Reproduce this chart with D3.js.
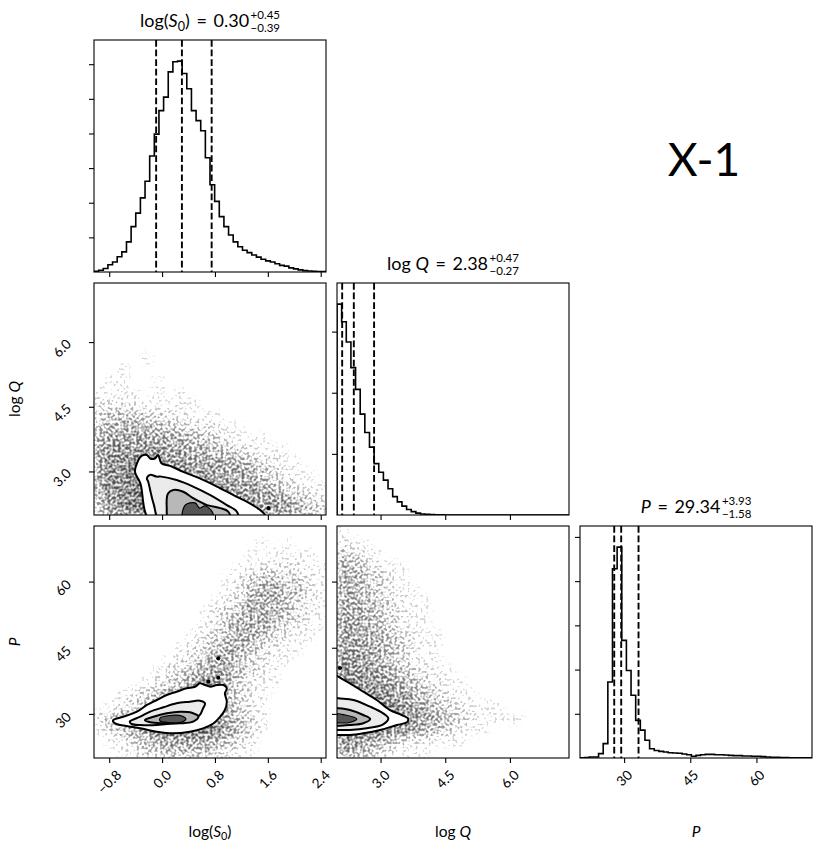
<!DOCTYPE html>
<html>
<head>
<meta charset="utf-8">
<script src="https://cdn.jsdelivr.net/npm/d3@7"></script>
<style>
  body { margin: 0; background: #fff; }
  svg { display: block; }
  text { font-family: Lato, "DejaVu Sans", sans-serif; fill: #000; }
</style>
</head>
<body>
<div id="container"></div>
<script>
/* CONSTANTS AND GLOBALS */
const width = 831, height = 855;
const marginLeft = 94, marginTop = 40, size = 232, gap = 11;

/* DATA */
// parameter ranges, ticks and 16/50/84 % values
const domains = [[-1.03, 2.48], [1.99, 7.37], [20, 72.6]];
const tickValues = [[-0.8, 0.0, 0.8, 1.6, 2.4], [3.0, 4.5, 6.0], [30, 45, 60]];
const tickLabels = [["−0.8", "0.0", "0.8", "1.6", "2.4"], ["3.0", "4.5", "6.0"], ["30", "45", "60"]];
const medians = [0.30, 2.38, 29.34];
const errPlus = [0.45, 0.47, 3.93];
const errMinus = [0.39, 0.27, 1.58];

// 1D histograms, 50 bins each
const histLogS0 = [20, 50, 100, 210, 290, 440, 580, 870, 1310, 1700, 2140, 2620, 3350, 3980, 4660, 5050, 5780, 6070, 6090, 5730,
  5290, 4660, 4370, 4080, 3300, 2520, 2040, 1600, 1310, 1070, 870, 730, 630, 560, 490, 430, 370, 320, 290, 240,
  190, 170, 120, 90, 60, 40, 30, 20, 10, 10];
const histLogQ = [3450, 3160, 2830, 2410, 2055, 1650, 1350, 1110, 840, 700, 570, 430, 300, 215, 145, 90, 55, 30, 16, 10,
  6, 4, 2, 1, 1, 0, 0, 0, 0, 0, 0, 0, 0, 0, 0, 0, 0, 0, 0, 0, 0, 0, 0, 0, 0, 0, 0, 0, 0, 0];
const histP = [4, 8, 23, 23, 98, 324, 1720, 4280, 4770, 2660, 1980, 1420, 850, 630, 400, 210, 170, 150, 135, 120,
  113, 106, 90, 75, 38, 60, 75, 83, 83, 75, 75, 68, 60, 53, 53, 45, 45, 38, 38, 30,
  23, 15, 15, 8, 8, 4, 4, 4, 4, 4];

// sample density: 20x20 cells, top row first, 0-9
const cloudSQ = [
  "00000000000000000000", "00000000000000000000", "00000000000000000000", "00000000000000000000",
  "00000000000000000000", "00000000000000000000", "00001000000000000000", "00100000000000000000",
  "01100100000000000000", "11110101000000000000", "22221111100000000000", "34443322111000000000",
  "45555443322110000000", "56666655443211100000", "67777766554432111000", "68888777666554321100",
  "68899888776665432110", "68899999887766543211", "57899999998877665432", "47899999999988776543"];
const cloudSP = [
  "00000000000000000000", "00000000000000101000", "00000000000001011110", "00000000000011222211",
  "00000000000123443321", "00000000000124554421", "00000000001235554321", "00000000012345554321",
  "00000000012455543211", "00000000123455432110", "00000001234554321100", "00000012345543211000",
  "00000123456543210000", "00001234677532110000", "00123456788432100000", "01234578888532100000",
  "24567889998543100000", "13467889998643100000", "01234566665432000000", "00123344443211000000"];
const cloudQP = [
  "10000000000000000000", "21100000000000000000", "43210000000000000000", "54321100000000000000",
  "55432100000000000000", "55432110000000000000", "55443211000000000000", "65543211000000000000",
  "66543211000000000000", "66554321100000000000", "76654321100000000000", "77654321100000000000",
  "87765432110000000000", "88776543211000000000", "99887654321100000000", "99998765432111000000",
  "99999876543211110000", "99998765432110000000", "77654322111000000000", "55432111000000000000"];

// density contours (outer to inner), in data units
const contoursSQ = [
  [[-0.15, 1.80], [-0.33, 2.73], [-0.41, 2.99], [-0.38, 3.19], [-0.31, 3.36], [-0.23, 3.38], [-0.18, 3.30], [-0.11, 3.30],
   [-0.06, 3.38], [-0.01, 3.19], [0.12, 3.13], [0.32, 2.99], [0.57, 2.84], [0.83, 2.65], [1.08, 2.45], [1.28, 2.30],
   [1.48, 2.11], [1.56, 1.99], [1.59, 1.80]],
  [[-0.01, 1.80], [-0.13, 2.26], [-0.21, 2.76], [-0.23, 2.84], [-0.18, 2.92], [-0.08, 2.88], [-0.01, 2.88], [0.22, 2.80],
   [0.47, 2.65], [0.73, 2.45], [0.98, 2.22], [1.13, 2.07], [1.15, 1.80]],
  [[0.12, 1.80], [0.07, 2.18], [0.09, 2.49], [0.17, 2.57], [0.32, 2.53], [0.47, 2.38], [0.68, 2.22], [0.88, 2.15],
   [1.00, 2.07], [1.04, 1.80]],
  [[0.32, 1.80], [0.35, 2.22], [0.50, 2.27], [0.57, 2.15], [0.65, 2.20], [0.76, 2.06], [0.77, 1.80]]
];
const contoursSP = [
  [[-0.74, 28.61], [-0.59, 29.36], [-0.38, 30.50], [-0.23, 32.02], [-0.08, 33.15], [0.07, 34.28], [0.22, 35.03], [0.37, 35.80],
   [0.50, 36.16], [0.57, 36.94], [0.65, 36.55], [0.73, 36.16], [0.83, 36.55], [0.93, 36.55], [0.98, 35.80], [0.95, 34.67],
   [0.98, 32.76], [0.95, 30.88], [0.88, 29.36], [0.78, 27.87], [0.62, 26.73], [0.42, 25.96], [0.17, 25.60], [-0.08, 25.96],
   [-0.33, 26.73], [-0.54, 27.25], [-0.69, 27.71], [-0.74, 28.23]],
  [[-0.49, 28.23], [-0.33, 29.36], [-0.18, 30.50], [0.02, 31.49], [0.22, 32.40], [0.42, 32.76], [0.57, 32.99], [0.65, 32.40],
   [0.62, 31.27], [0.57, 29.75], [0.42, 28.61], [0.17, 27.87], [-0.08, 27.48], [-0.33, 27.48], [-0.46, 27.71]],
  [[-0.26, 28.61], [-0.13, 29.36], [0.07, 30.13], [0.27, 30.50], [0.45, 30.27], [0.55, 29.36], [0.47, 28.23], [0.27, 27.87],
   [0.02, 27.87], [-0.18, 28.09]],
  [[-0.03, 29.07], [0.12, 29.63], [0.30, 29.52], [0.36, 28.84], [0.30, 28.16], [0.09, 28.05], [-0.03, 28.39]]
];
const contoursQP = [
  [[1.83, 39.50], [2.02, 38.43], [2.29, 36.94], [2.60, 35.03], [2.91, 33.15], [3.22, 30.88], [3.49, 29.75], [3.64, 28.84],
   [3.61, 28.09], [3.38, 27.48], [2.99, 26.35], [2.60, 25.60], [2.29, 25.21], [2.02, 25.21], [1.83, 24.99]],
  [[1.83, 33.83], [2.02, 33.54], [2.37, 33.15], [2.76, 31.63], [3.06, 30.13], [3.18, 29.00], [3.06, 27.64], [2.68, 26.73],
   [2.29, 26.35], [2.02, 26.35], [1.83, 26.35]],
  [[1.83, 31.34], [2.02, 31.27], [2.29, 30.88], [2.60, 29.75], [2.76, 28.84], [2.60, 27.87], [2.29, 27.48], [2.02, 27.32],
   [1.83, 27.25]],
  [[1.83, 29.98], [2.18, 29.75], [2.45, 28.84], [2.29, 28.05], [2.01, 27.94], [1.83, 27.94]]
];

// isolated dense clumps drawn as black dots
const dotsSQ = [[1.61, 2.15]];
const dotsSP = [[0.70, 37.3], [0.85, 42.6], [0.85, 38.2]];
const dotsQP = [[2.06, 40.4]];

// axis label pieces
const labelParts = [
  [{ t: "log(" }, { t: "S", it: true }, { t: "0", sub: true }, { t: ")" }],
  [{ t: "log " }, { t: "Q", it: true }],
  [{ t: "P", it: true }]
];
const figureTag = "X-1";

/* SCALES */
const colX = i => marginLeft + i * (size + gap);
const rowY = j => marginTop + j * (size + gap);
const xScales = domains.map((d, i) => d3.scaleLinear().domain(d).range([colX(i), colX(i) + size]));
const yScales = domains.map((d, j) => d3.scaleLinear().domain(d).range([rowY(j) + size, rowY(j)]));
// density level -> opacity of the sample cloud (before the grain)
const cloudAlpha = d3.scaleLinear().domain([0, 1, 5, 9]).range([0, 0.09, 0.42, 0.62]);

/* HTML ELEMENTS */
const svg = d3.select("#container").append("svg")
  .attr("width", width).attr("height", height);
const defs = svg.append("defs");

// soft cloud broken up by a grainy texture, so it reads like many faint dots
const soft = defs.append("filter").attr("id", "soft")
  .attr("x", "-10%").attr("y", "-10%").attr("width", "120%").attr("height", "120%");
soft.append("feGaussianBlur").attr("in", "SourceGraphic").attr("stdDeviation", 3.2).attr("result", "b");
soft.append("feTurbulence").attr("type", "fractalNoise").attr("baseFrequency", 0.38)
  .attr("numOctaves", 1).attr("seed", 11).attr("result", "n");
soft.append("feColorMatrix").attr("in", "n").attr("type", "matrix")
  .attr("values", "0 0 0 0 0  0 0 0 0 0  0 0 0 0 0  3.0 0 0 0 -1.0").attr("result", "grain");
soft.append("feComposite").attr("in", "b").attr("in2", "grain").attr("operator", "arithmetic")
  .attr("k1", 0).attr("k2", 1.05).attr("k3", 0.6).attr("k4", -0.53).attr("result", "dots");
soft.append("feComponentTransfer").attr("in", "b").attr("result", "mask")
  .append("feFuncA").attr("type", "linear").attr("slope", 20).attr("intercept", 0);
soft.append("feComposite").attr("in", "dots").attr("in2", "mask").attr("operator", "in").attr("result", "masked");
soft.append("feGaussianBlur").attr("in", "masked").attr("stdDeviation", 0.45);

function clipFor(i, j) {
  const id = `clip-${i}-${j}`;
  defs.append("clipPath").attr("id", id).append("rect")
    .attr("x", colX(i)).attr("y", rowY(j)).attr("width", size).attr("height", size);
  return `url(#${id})`;
}

// text with italic letters and subscripts
function mathText(sel, parts, fs) {
  let shift = 0;
  parts.forEach(p => {
    const ts = sel.append("tspan").text(p.t);
    if (p.it) ts.attr("font-style", "italic");
    if (p.ws) ts.attr("word-spacing", p.ws);
    const want = p.sub ? fs * 0.22 : 0;
    if (want !== shift) { ts.attr("dy", want - shift); shift = want; }
    if (p.sub) ts.attr("font-size", fs * 0.7);
  });
  return sel;
}

function tickAxis(g, axis, transform) {
  const a = g.append("g").attr("transform", transform).call(axis);
  a.select(".domain").remove();
  a.selectAll("line").attr("stroke", "#000").attr("stroke-width", 1.1);
  a.selectAll("text").remove();
}

const labelFs = 13.5;
function xTickLabels(i, j) {
  const x = xScales[i], base = rowY(j) + size;
  tickValues[i].forEach((v, k) => {
    const t = svg.append("text").attr("font-size", labelFs)
      .attr("text-anchor", "middle").attr("dominant-baseline", "central").text(tickLabels[i][k]);
    const ext = (t.node().getComputedTextLength() + labelFs * 0.72) / Math.SQRT2;
    t.attr("transform", `translate(${x(v)},${base + 11 + ext / 2}) rotate(-45)`);
  });
}
function yTickLabels(i, j) {
  const y = yScales[j], edge = colX(i) - 22;
  tickValues[j].forEach((v, k) => {
    const t = svg.append("text").attr("font-size", labelFs)
      .attr("text-anchor", "middle").attr("dominant-baseline", "central").text(tickLabels[j][k]);
    const ext = (t.node().getComputedTextLength() + labelFs * 0.72) / Math.SQRT2;
    t.attr("transform", `translate(${edge - ext / 2},${y(v) + 6}) rotate(-45)`);
  });
}

function box(i, j) {
  svg.append("rect").attr("x", colX(i)).attr("y", rowY(j))
    .attr("width", size).attr("height", size)
    .attr("fill", "none").attr("stroke", "#000").attr("stroke-width", 1.1);
}

/* HISTOGRAMS */
const hists = [histLogS0, histLogQ, histP];
hists.forEach((counts, i) => {
  const x = xScales[i], dom = domains[i];
  const n = counts.length, bw = (dom[1] - dom[0]) / n;
  const yH = d3.scaleLinear().domain([0, 1.1 * d3.max(counts)]).range([rowY(i) + size, rowY(i)]);
  const pts = [[dom[0], 0]];
  counts.forEach((c, k) => pts.push([dom[0] + k * bw, c]));
  pts.push([dom[1], counts[n - 1]], [dom[1], 0]);

  const g = svg.append("g").attr("clip-path", clipFor(i, i));
  g.append("path").datum(pts)
    .attr("d", d3.line().x(d => x(d[0])).y(d => yH(d[1])).curve(d3.curveStepAfter))
    .attr("fill", "none").attr("stroke", "#000").attr("stroke-width", 1.6);

  const q = [medians[i] - errMinus[i], medians[i], medians[i] + errPlus[i]];
  g.selectAll(".q").data(q).join("line")
    .attr("x1", d => x(d)).attr("x2", d => x(d))
    .attr("y1", rowY(i)).attr("y2", rowY(i) + size)
    .attr("stroke", "#000").attr("stroke-width", 1.9).attr("stroke-dasharray", "6.7 2.9");

  tickAxis(svg, d3.axisLeft(yH).tickValues(d3.range(1000, 1.1 * d3.max(counts), 1000)).tickSize(5).tickFormat(""),
    `translate(${colX(i)},0)`);
  tickAxis(svg, d3.axisBottom(x).tickValues(tickValues[i]).tickSize(5).tickFormat(""),
    `translate(0,${rowY(i) + size})`);
  box(i, i);

  // title with stacked errors
  const tg = svg.append("g");
  const fs = 18;
  const mainParts = labelParts[i].concat([{ t: " = ", ws: 2 }, { t: medians[i].toFixed(2) }]);
  const main = mathText(tg.append("text").attr("font-size", fs), mainParts, fs);
  const w = main.node().getComputedTextLength();
  const sup = tg.append("text").attr("font-size", 11.5).attr("x", w + 1.5).attr("y", -8).text("+" + errPlus[i].toFixed(2));
  const sub = tg.append("text").attr("font-size", 11.5).attr("x", w + 1.5).attr("y", 4.5).text("−" + errMinus[i].toFixed(2));
  const total = w + 1.5 + Math.max(sup.node().getComputedTextLength(), sub.node().getComputedTextLength());
  tg.attr("transform", `translate(${colX(i) + size / 2 - total / 2},${rowY(i) - 13})`);
});

/* 2D PANELS */
const pairs = [
  { i: 0, j: 1, cloud: cloudSQ, contours: contoursSQ, dots: dotsSQ },
  { i: 0, j: 2, cloud: cloudSP, contours: contoursSP, dots: dotsSP },
  { i: 1, j: 2, cloud: cloudQP, contours: contoursQP, dots: dotsQP }
];
const fills = ["#ffffff", "#ebebeb", "#b8b8b8", "#555555"];

pairs.forEach(p => {
  const x = xScales[p.i], y = yScales[p.j];
  const dx = domains[p.i], dy = domains[p.j];
  const nx = p.cloud[0].length, ny = p.cloud.length;
  const cw = (dx[1] - dx[0]) / nx, ch = (dy[1] - dy[0]) / ny;
  const cells = [];
  p.cloud.forEach((row, r) => row.split("").forEach((v, c) => {
    if (+v > 0) cells.push({ x0: dx[0] + c * cw, y1: dy[1] - r * ch, v: +v });
  }));

  const g = svg.append("g").attr("clip-path", clipFor(p.i, p.j));
  g.append("g").attr("filter", "url(#soft)")
    .selectAll("rect").data(cells).join("rect")
    .attr("x", d => x(d.x0)).attr("y", d => y(d.y1))
    .attr("width", x(dx[0] + cw) - x(dx[0]) + 0.5)
    .attr("height", y(dy[1] - ch) - y(dy[1]) + 0.5)
    .attr("fill", "#000").attr("fill-opacity", d => cloudAlpha(d.v));

  const line = d3.line().x(d => x(d[0])).y(d => y(d[1])).curve(d3.curveCatmullRomClosed.alpha(0.5));
  g.selectAll(".lvl").data(p.contours).join("path")
    .attr("d", line)
    .attr("fill", (d, k) => fills[k])
    .attr("stroke", "#000")
    .attr("stroke-width", (d, k) => k < 3 ? 2 : 1.2);

  g.selectAll(".dot").data(p.dots).join("circle")
    .attr("cx", d => x(d[0])).attr("cy", d => y(d[1])).attr("r", 2.1).attr("fill", "#000");

  tickAxis(svg, d3.axisLeft(y).tickValues(tickValues[p.j]).tickSize(5).tickFormat(""), `translate(${colX(p.i)},0)`);
  tickAxis(svg, d3.axisBottom(x).tickValues(tickValues[p.i]).tickSize(5).tickFormat(""), `translate(0,${rowY(p.j) + size})`);
  box(p.i, p.j);
});

/* TICK LABELS AND AXIS LABELS */
[0, 1, 2].forEach(i => xTickLabels(i, 2));
[1, 2].forEach(j => yTickLabels(0, j));

const axFs = 15.5;
[0, 1, 2].forEach(i => {
  mathText(svg.append("text").attr("font-size", axFs).attr("text-anchor", "middle")
    .attr("x", colX(i) + size / 2).attr("y", 837), labelParts[i], axFs);
});
[1, 2].forEach(j => {
  mathText(svg.append("text").attr("font-size", axFs).attr("text-anchor", "middle")
    .attr("transform", `translate(20,${rowY(j) + size / 2}) rotate(-90)`), labelParts[j], axFs);
});

svg.append("text").attr("x", 704).attr("y", 176).attr("text-anchor", "middle")
  .attr("font-size", 46).text(figureTag);
</script>
</body>
</html>
